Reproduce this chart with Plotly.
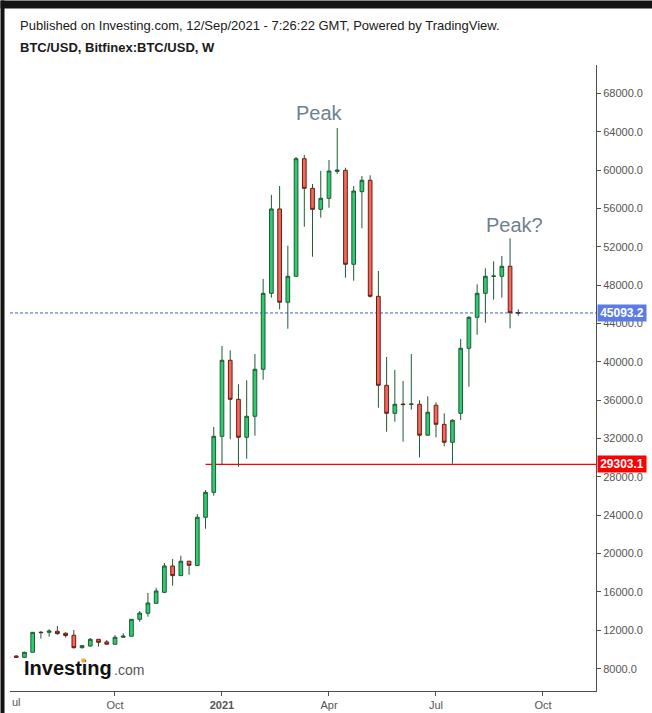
import plotly.graph_objects as go

# ---------------- data (weekly BTC/USD, Bitfinex) ----------------
dates = [
    "2020-07-05", "2020-07-12", "2020-07-19", "2020-07-26", "2020-08-02", "2020-08-09",
    "2020-08-16", "2020-08-23", "2020-08-30", "2020-09-06", "2020-09-13", "2020-09-20",
    "2020-09-27", "2020-10-04", "2020-10-11", "2020-10-18", "2020-10-25", "2020-11-01",
    "2020-11-08", "2020-11-15", "2020-11-22", "2020-11-29", "2020-12-06", "2020-12-13",
    "2020-12-20", "2020-12-27", "2021-01-03", "2021-01-10", "2021-01-17", "2021-01-24",
    "2021-01-31", "2021-02-07", "2021-02-14", "2021-02-21", "2021-02-28", "2021-03-07",
    "2021-03-14", "2021-03-21", "2021-03-28", "2021-04-04", "2021-04-11", "2021-04-18",
    "2021-04-25", "2021-05-02", "2021-05-09", "2021-05-16", "2021-05-23", "2021-05-30",
    "2021-06-06", "2021-06-13", "2021-06-20", "2021-06-27", "2021-07-04", "2021-07-11",
    "2021-07-18", "2021-07-25", "2021-08-01", "2021-08-08", "2021-08-15", "2021-08-22",
    "2021-08-29", "2021-09-05", "2021-09-12",
]
opens = [
    9150, 9320, 9180, 9710, 11800, 11790, 11900, 11700, 11480, 10190, 10360, 11060,
    10790, 10550, 11270, 11380, 13150, 13780, 14810, 15960, 18710, 17700, 19200, 18750,
    23790, 26390, 32230, 40160, 36090, 32130, 34320, 39220, 47140, 55940, 46210, 48920,
    61180, 58090, 55900, 57050, 59850, 59970, 50170, 57740, 58930, 46830, 37550, 34630,
    35600, 35540, 35570, 32340, 35470, 33480, 31610, 34630, 41410, 44640, 47140, 48900,
    48920, 49960, 45120,
]
highs = [
    9300, 9420, 9760, 11810, 11930, 12110, 12450, 11790, 12030, 10420, 11200, 11080,
    10990, 11510, 11690, 13160, 14010, 15890, 16440, 19020, 19440, 19780, 19250, 24130,
    26630, 33200, 41650, 41200, 37660, 38070, 40810, 48640, 57400, 58330, 52110, 61350,
    61570, 58540, 59900, 61050, 64380, 60240, 58330, 59380, 59450, 49470, 40500, 39150,
    38000, 40810, 35990, 36400, 35780, 34630, 34000, 42380, 44750, 48080, 49750, 50480,
    51030, 52880, 45480,
]
lows = [
    9100, 9150, 9150, 9700, 11130, 11330, 11540, 11230, 10090, 10090, 10300, 10300,
    10540, 10540, 11260, 11370, 12900, 13420, 14800, 15860, 16650, 17690, 17800, 18700,
    22600, 26040, 29310, 31920, 29060, 29900, 32290, 38130, 46690, 45480, 43450, 48900,
    54090, 50960, 55030, 56070, 59590, 48770, 48460, 53920, 46700, 35210, 32710, 33760,
    31670, 35010, 30040, 32330, 32130, 31190, 29370, 33930, 37400, 42830, 44080, 46480,
    46690, 43490, 44810,
]
closes = [
    9250, 9180, 9710, 11790, 11760, 11930, 11650, 11450, 10190, 10400, 11060, 10750,
    10550, 11270, 11400, 13150, 13800, 14850, 16100, 18710, 17700, 19200, 18780, 23790,
    26390, 32230, 40160, 36090, 32130, 34320, 39220, 47140, 55940, 46210, 48920, 61180,
    58090, 55900, 57050, 59900, 60000, 50170, 57810, 58930, 46830, 37550, 34630, 35570,
    35540, 35600, 32340, 34740, 33480, 31610, 33900, 41410, 44640, 47140, 48920, 48950,
    49960, 45120, 45093.2,
]

last_price = 45093.2
support_price = 29303.1
support_start = "2020-12-20"

y_tick_values = [8000, 12000, 16000, 20000, 24000, 28000, 32000, 36000, 40000,
                 44000, 48000, 52000, 56000, 60000, 64000, 68000]
y_tick_labels = ["8000.0", "12000.0", "16000.0", "20000.0", "24000.0", "28000.0",
                 "32000.0", "36000.0", "40000.0", "44000.0", "48000.0", "52000.0",
                 "56000.0", "60000.0", "64000.0", "68000.0"]
x_tick_dates = ["2020-10-04", "2021-01-03", "2021-04-04", "2021-07-04", "2021-10-03"]
x_tick_labels = ["Oct", "<b>2021</b>", "Apr", "Jul", "Oct"]

x_range = ["2020-07-06 17:00", "2021-11-17 02:00"]
y_range = [5671, 70951]

# ---------------- styling ----------------
UP_FILL = "#2ecc71"
UP_LINE = "#1f5a33"
DN_FILL = "#f5695b"
DN_LINE = "#6a1a12"
WICK = "#1f5a33"
AXIS = "#4d4d4d"
TXT = "#555555"
FRAME = "#141414"
FONT = "Liberation Sans, Arial, sans-serif"

W, H = 652, 713
ML, MR, MT, MB = 10, 56, 65, 22
PW, PH = W - ML - MR, H - MT - MB


def px_x(px):
    return (px - ML) / PW


def px_y(py):
    return (H - MB - py) / PH


# wick segments (outside the body)
wx, wy = [], []
for d, o, h, l, c in zip(dates, opens, highs, lows, closes):
    top, bot = max(o, c), min(o, c)
    if h > top:
        wx += [d, d, None]
        wy += [h, top, None]
    if l < bot:
        wx += [d, d, None]
        wy += [bot, l, None]

body_hi = [max(o, c) for o, c in zip(opens, closes)]
body_lo = [min(o, c) for o, c in zip(opens, closes)]

fig = go.Figure()
fig.add_trace(go.Scatter(
    x=wx, y=wy, mode="lines", line=dict(color=WICK, width=1),
    hoverinfo="skip", showlegend=False,
))
fig.add_trace(go.Candlestick(
    x=dates, open=opens, high=body_hi, low=body_lo, close=closes,
    increasing=dict(fillcolor=UP_FILL, line=dict(color=UP_LINE, width=1)),
    decreasing=dict(fillcolor=DN_FILL, line=dict(color=DN_LINE, width=1)),
    whiskerwidth=0, showlegend=False, hoverinfo="skip",
))

shapes = [
    # last price dotted line
    dict(type="line", xref="paper", x0=0, x1=1, yref="y", y0=last_price, y1=last_price,
         line=dict(color="#3d5bd6", width=1, dash="3px,2px"), layer="below"),
    # support line
    dict(type="line", xref="x", x0=support_start, x1=x_range[1], yref="y",
         y0=support_price, y1=support_price, line=dict(color="#ff0000", width=1.2),
         layer="below"),
]

annotations = [
    # dark frame band (top) and strip (left)
    dict(xref="paper", yref="paper", x=px_x(0), y=px_y(0), xanchor="left",
         yanchor="top", showarrow=False, text=" ", bgcolor=FRAME,
         width=W, height=7, borderpad=0, font=dict(size=2)),
    dict(xref="paper", yref="paper", x=px_x(0), y=px_y(0), xanchor="left",
         yanchor="top", showarrow=False, text=" ", bgcolor=FRAME,
         width=3, height=H, borderpad=0, font=dict(size=2)),
    dict(xref="paper", yref="paper", x=px_x(18), y=px_y(25.5), xanchor="left",
         yanchor="middle", showarrow=False,
         text="Published on Investing.com, 12/Sep/2021 - 7:26:22 GMT, Powered by TradingView.",
         font=dict(family=FONT, size=13, color="#1a1a1a")),
    dict(xref="paper", yref="paper", x=px_x(18), y=px_y(48), xanchor="left",
         yanchor="middle", showarrow=False,
         text="<b>BTC/USD, Bitfinex:BTC/USD, W</b>",
         font=dict(family=FONT, size=13, color="#1a1a1a")),
    dict(xref="x", yref="y", x="2021-03-27", y=65950, showarrow=False,
         text="Peak", font=dict(family=FONT, size=20, color="#6e7f91")),
    dict(xref="x", yref="y", x="2021-09-09", y=54260, showarrow=False,
         text="Peak?", font=dict(family=FONT, size=20, color="#6e7f91")),
    # price labels on the axis
    dict(xref="paper", yref="y", x=1, y=last_price, xanchor="left", yanchor="middle",
         xshift=1, showarrow=False, text="<b>45093.2</b>", bgcolor="#5b7be6",
         width=46, height=14, borderpad=1,
         font=dict(family=FONT, size=12, color="#ffffff")),
    dict(xref="paper", yref="y", x=1, y=support_price, xanchor="left", yanchor="middle",
         xshift=1, showarrow=False, text="<b>29303.1</b>", bgcolor="#ff0000",
         width=46, height=14, borderpad=1,
         font=dict(family=FONT, size=12, color="#ffffff")),
    # clipped first month label
    dict(xref="paper", yref="paper", x=0, y=px_y(702), xanchor="left", yanchor="middle",
         showarrow=False, text="ul", font=dict(family=FONT, size=11, color=TXT)),
    # logo
    dict(xref="paper", yref="paper", x=px_x(22), y=px_y(667.5), xanchor="left",
         yanchor="middle", showarrow=False, text="<b>Investing</b>",
         font=dict(family=FONT, size=20, color="#111111")),
    dict(xref="paper", yref="paper", x=px_x(111.5), y=px_y(669.5), xanchor="left",
         yanchor="middle", showarrow=False, text=".com",
         font=dict(family=FONT, size=14, color="#555555")),
    dict(xref="paper", yref="paper", x=px_x(83.3), y=px_y(660), xanchor="center",
         yanchor="middle", showarrow=False, text=" ", bgcolor="#f5a623",
         width=3, height=3, borderpad=0, font=dict(size=2)),
]

fig.update_layout(
    width=W, height=H,
    margin=dict(l=ML, r=MR, t=MT, b=MB, autoexpand=False),
    paper_bgcolor="#ffffff", plot_bgcolor="rgba(0,0,0,0)",
    boxgap=0.36,
    shapes=shapes, annotations=annotations,
    showlegend=False,
    xaxis=dict(
        type="date", range=x_range, rangeslider=dict(visible=False), automargin=False,
        tickmode="array", tickvals=x_tick_dates, ticktext=x_tick_labels,
        showgrid=False, zeroline=False, showline=True, linecolor=AXIS, linewidth=1,
        ticks="outside", ticklen=4, tickcolor=AXIS,
        tickfont=dict(family=FONT, size=11, color=TXT),
    ),
    yaxis=dict(
        side="right", range=y_range, automargin=False,
        tickmode="array", tickvals=y_tick_values, ticktext=y_tick_labels,
        showgrid=False, zeroline=False, showline=True, linecolor=AXIS, linewidth=1,
        ticks="outside", ticklen=4, tickcolor=AXIS,
        tickfont=dict(family=FONT, size=11, color=TXT),
    ),
)

fig.write_html("out.html")
